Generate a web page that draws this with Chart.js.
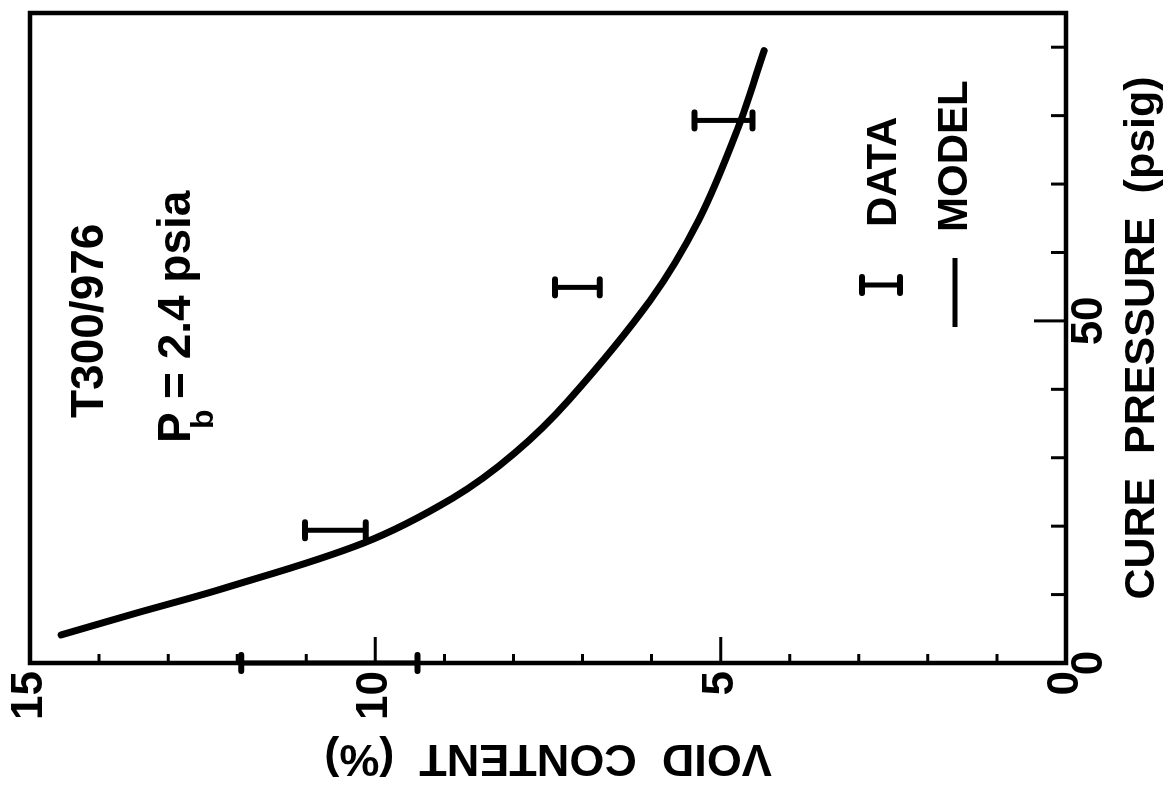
<!DOCTYPE html>
<html>
<head>
<meta charset="utf-8">
<script src="https://cdn.jsdelivr.net/npm/chart.js@4.4.1/dist/chart.umd.min.js"></script>
<style>
    html, body { margin: 0; padding: 0; background: #fff; overflow: hidden; }
    body { width: 1176px; height: 787px; position: relative; }
    /* the figure is printed turned on its side, so draw it upright and turn it */
    #wrap {
        position: absolute; left: 0; top: 0;
        width: 787px; height: 1176px;
        transform-origin: 0 0;
        transform: translate(0px, 787px) rotate(-90deg);
    }
</style>
</head>
<body>
<div id="wrap"><canvas id="voidChart" width="787" height="1176"></canvas></div>
<script>
// =========================
// Data
// =========================
const modelPressure = [4.1, 7.3, 10.9, 17.5, 24.1, 30.7, 38.4, 53.0, 64.7, 78.2, 89.5];
const modelVoid     = [14.55, 13.46, 12.2, 10.18, 8.88, 7.98, 7.2, 6.02, 5.32, 4.75, 4.37];

const dataPressure  = [0, 19.4, 54.9, 79.3];
const dataVoidHigh  = [11.94, 11.02, 7.40, 5.38];
const dataVoidLow   = [9.39, 10.14, 6.75, 4.54];

const pressureLabels = [0, 50];
const voidLabels     = [0, 5, 10, 15];

const FONT = '"Liberation Sans", Arial, Helvetica, sans-serif';

function drawRange(ctx, px, top, bottom, capHalf) {
    ctx.lineCap = "round";
    ctx.lineWidth = 5;
    ctx.beginPath();
    ctx.moveTo(px, top);
    ctx.lineTo(px, bottom);
    ctx.stroke();
    ctx.lineWidth = 6;
    ctx.beginPath();
    ctx.moveTo(px - capHalf, top);
    ctx.lineTo(px + capHalf, top);
    ctx.moveTo(px - capHalf, bottom);
    ctx.lineTo(px + capHalf, bottom);
    ctx.stroke();
}

// =========================
// Frame, inward ticks, error bars, notes
// =========================
const framePlugin = {
    id: "frame",
    afterDraw(chart) {
        const ctx = chart.ctx;
        const a = chart.chartArea;
        const x = chart.scales.x;
        const y = chart.scales.y;

        ctx.save();
        ctx.strokeStyle = "#000";
        ctx.fillStyle = "#000";

        ctx.lineWidth = 4.5;
        ctx.strokeRect(a.left, a.top, a.right - a.left, a.bottom - a.top);

        ctx.lineWidth = 3;
        ctx.beginPath();
        x.ticks.forEach(t => {
            const px = x.getPixelForValue(t.value);
            const len = t.value % 50 === 0 ? 32 : 15;
            ctx.moveTo(px, a.bottom);
            ctx.lineTo(px, a.bottom - len);
        });
        y.ticks.forEach(t => {
            const py = y.getPixelForValue(t.value);
            const len = t.value % 5 === 0 ? 26 : 9;
            ctx.moveTo(a.left, py);
            ctx.lineTo(a.left + len, py);
        });
        ctx.stroke();

        dataPressure.forEach((p, i) => {
            drawRange(ctx, x.getPixelForValue(p),
                y.getPixelForValue(dataVoidHigh[i]),
                y.getPixelForValue(dataVoidLow[i]), 8);
        });

        // notes
        ctx.textBaseline = "middle";
        ctx.textAlign = "left";
        ctx.font = "bold 46px " + FONT;
        ctx.fillText("T300/976", 369, 90);
        ctx.fillText("P", 344, 177);
        ctx.fillText("= 2.4 psia", 388, 177);
        ctx.font = "bold 32px " + FONT;
        ctx.fillText("b", 358, 204);

        // legend
        drawRange(ctx, 502, 862, 900, 8);
        ctx.lineCap = "butt";
        ctx.lineWidth = 5;
        ctx.beginPath();
        ctx.moveTo(460, 955);
        ctx.lineTo(529, 955);
        ctx.stroke();
        ctx.font = "bold 42px " + FONT;
        ctx.fillText("DATA", 560, 884);
        ctx.fillText("MODEL", 555, 955);

        ctx.restore();
    }
};

document.addEventListener("DOMContentLoaded", function () {

    const canvas = document.getElementById("voidChart");

    new Chart(canvas, {
        type: "scatter",
        data: {
            datasets: [{
                label: "MODEL",
                data: modelPressure.map((p, i) => ({ x: p, y: modelVoid[i] })),
                showLine: true,
                borderColor: "#000",
                borderWidth: 7,
                borderCapStyle: "round",
                borderJoinStyle: "round",
                pointRadius: 0,
                tension: 0.35
            }]
        },
        options: {
            responsive: false,
            animation: false,
            devicePixelRatio: 1,
            layout: {
                padding: { left: 0, top: 26, right: 13, bottom: 0 }
            },
            plugins: {
                legend: { display: false },
                tooltip: { enabled: false }
            },
            scales: {
                x: {
                    type: "linear",
                    min: 0,
                    max: 95,
                    afterFit: scale => { scale.height = 110; },
                    grid: { display: false, drawTicks: false },
                    border: { display: false },
                    ticks: {
                        stepSize: 10,
                        includeBounds: false,
                        autoSkip: false,
                        maxRotation: 0,
                        padding: 2,
                        color: "#000",
                        font: { family: FONT, size: 44, weight: "bold", lineHeight: 1 },
                        callback: v => pressureLabels.includes(v) ? String(v) : ""
                    },
                    title: {
                        display: true,
                        text: "CURE  PRESSURE  (psig)",
                        color: "#000",
                        font: { family: FONT, size: 43, weight: "bold" },
                        padding: { top: 0, bottom: 8 }
                    }
                },
                y: {
                    type: "linear",
                    min: 0,
                    max: 15,
                    afterFit: scale => { scale.width = 124; },
                    grid: { display: false, drawTicks: false },
                    border: { display: false },
                    ticks: {
                        stepSize: 1,
                        includeBounds: false,
                        autoSkip: false,
                        padding: 8,
                        color: "#000",
                        font: { family: FONT, size: 44, weight: "bold", lineHeight: 1 },
                        callback: v => voidLabels.includes(v) ? String(v) : ""
                    },
                    title: {
                        display: true,
                        text: "VOID  CONTENT  (%)",
                        color: "#000",
                        font: { family: FONT, size: 45, weight: "bold" },
                        padding: { top: 3, bottom: 0 }
                    }
                }
            }
        },
        plugins: [framePlugin]
    });
});
</script>
</body>
</html>
